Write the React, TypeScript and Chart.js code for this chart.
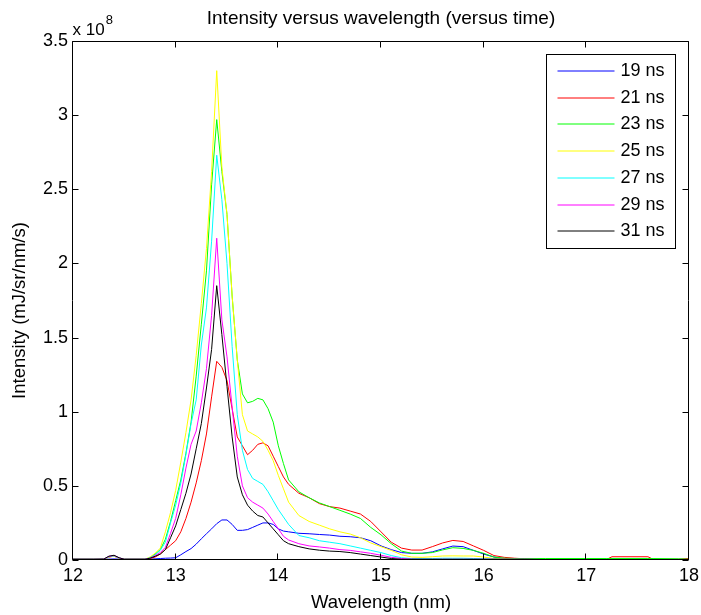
import React, { useEffect, useRef } from "react";
import { Chart, registerables } from "chart.js";

Chart.register(...registerables);

const FONT = "'Liberation Sans', Arial, Helvetica, sans-serif";

// Wavelength grid (nm)
const wavelength = [
  12.0, 12.2, 12.3, 12.35, 12.4, 12.45, 12.5, 12.7,
  12.75, 12.8, 12.85, 12.9, 12.95, 13.0, 13.05, 13.1, 13.15, 13.2, 13.25, 13.3, 13.35, 13.4,
  13.45, 13.5, 13.55, 13.6, 13.65, 13.7, 13.75, 13.8, 13.85, 13.9, 13.95, 14.0, 14.05, 14.1,
  14.2, 14.3, 14.4, 14.5, 14.6, 14.7, 14.8, 14.9, 15.0, 15.1, 15.2, 15.3,
  15.4, 15.5, 15.6, 15.7, 15.8, 15.9, 16.0, 16.1, 16.2, 16.3, 16.4,
  16.6, 17.0, 17.2, 17.25, 17.6, 17.65, 17.9, 18.0,
];

// Intensity in units of 1e8 mJ/sr/nm/s
const ns19 = [
  0.005, 0.005, 0.005, 0.006, 0.007, 0.006, 0.005, 0.005,
  0.006, 0.008, 0.01, 0.012, 0.013, 0.015, 0.035, 0.057, 0.077, 0.107, 0.143, 0.177, 0.21, 0.245,
  0.27, 0.27, 0.24, 0.2, 0.2, 0.205, 0.22, 0.235, 0.25, 0.25, 0.24, 0.21, 0.195, 0.19,
  0.18, 0.177, 0.172, 0.168, 0.16, 0.157, 0.15, 0.13, 0.095, 0.07, 0.05, 0.045,
  0.045, 0.055, 0.075, 0.094, 0.09, 0.065, 0.04, 0.02, 0.01, 0.007, 0.005,
  0.004, 0.004, 0.004, 0.004, 0.004, 0.004, 0.004, 0.004,
];
const ns21 = [
  0.005, 0.005, 0.006, 0.02, 0.026, 0.012, 0.005, 0.005,
  0.01, 0.02, 0.04, 0.07, 0.1, 0.13, 0.19, 0.28, 0.39, 0.52, 0.67, 0.85, 1.1, 1.34,
  1.3, 1.21, 1.02, 0.83, 0.77, 0.71, 0.74, 0.78, 0.79, 0.77, 0.7, 0.63, 0.56, 0.51,
  0.45, 0.42, 0.38, 0.36, 0.35, 0.33, 0.31, 0.26, 0.19, 0.12, 0.08, 0.067,
  0.067, 0.09, 0.115, 0.132, 0.125, 0.095, 0.065, 0.03, 0.018, 0.012, 0.008,
  0.005, 0.005, 0.005, 0.022, 0.022, 0.005, 0.005, 0.01,
];
const ns23 = [
  0.005, 0.005, 0.006, 0.022, 0.028, 0.013, 0.005, 0.005,
  0.015, 0.04, 0.07, 0.14, 0.26, 0.4, 0.54, 0.72, 0.93, 1.24, 1.59, 1.95, 2.53, 2.97,
  2.62, 2.33, 1.78, 1.35, 1.12, 1.06, 1.07, 1.09, 1.08, 1.02, 0.93, 0.77, 0.65, 0.54,
  0.46, 0.42, 0.385, 0.36, 0.335, 0.31, 0.28, 0.22, 0.17, 0.11, 0.06, 0.045,
  0.045, 0.05, 0.068, 0.083, 0.078, 0.065, 0.045, 0.02, 0.012, 0.01, 0.01,
  0.01, 0.01, 0.01, 0.01, 0.01, 0.01, 0.008, 0.005,
];
const ns25 = [
  0.005, 0.005, 0.006, 0.02, 0.025, 0.012, 0.005, 0.005,
  0.02, 0.045, 0.08, 0.19, 0.32, 0.47, 0.66, 0.86, 1.08, 1.38, 1.73, 2.1, 2.62, 3.3,
  2.65, 2.33, 1.78, 1.35, 0.98, 0.87, 0.85, 0.83, 0.8, 0.74, 0.67, 0.57, 0.48, 0.39,
  0.3, 0.26, 0.235, 0.21, 0.19, 0.175, 0.15, 0.115, 0.09, 0.065, 0.035, 0.02,
  0.018, 0.022, 0.027, 0.028, 0.027, 0.027, 0.02, 0.01, 0.008, 0.006, 0.005,
  0.003, 0.003, 0.003, 0.003, 0.003, 0.003, 0.003, 0.003,
];
const ns27 = [
  0.005, 0.005, 0.006, 0.022, 0.028, 0.013, 0.005, 0.005,
  0.015, 0.035, 0.065, 0.12, 0.25, 0.37, 0.52, 0.71, 0.92, 1.08, 1.45, 1.7, 2.15, 2.73,
  2.43, 2.0, 1.44, 0.98, 0.74, 0.61, 0.55, 0.53, 0.51, 0.46, 0.4, 0.34, 0.29, 0.24,
  0.165, 0.15, 0.13, 0.12, 0.11, 0.095, 0.08, 0.065, 0.05, 0.03, 0.015, 0.01,
  0.01, 0.01, 0.012, 0.012, 0.012, 0.01, 0.008, 0.006, 0.005, 0.005, 0.005,
  0.003, 0.003, 0.003, 0.003, 0.003, 0.003, 0.003, 0.003,
];
const ns29 = [
  0.005, 0.005, 0.006, 0.024, 0.03, 0.014, 0.005, 0.005,
  0.012, 0.03, 0.05, 0.085, 0.18, 0.28, 0.44, 0.62, 0.78, 0.87, 1.06, 1.29, 1.65, 2.17,
  1.62, 1.37, 1.03, 0.7, 0.5, 0.42, 0.39, 0.37, 0.35, 0.31, 0.26, 0.21, 0.16, 0.135,
  0.11, 0.095, 0.088, 0.08, 0.07, 0.065, 0.055, 0.045, 0.032, 0.018, 0.01, 0.006,
  0.005, 0.005, 0.005, 0.005, 0.005, 0.005, 0.005, 0.005, 0.005, 0.005, 0.005,
  0.003, 0.003, 0.003, 0.003, 0.003, 0.003, 0.003, 0.003,
];
const ns31 = [
  0.005, 0.005, 0.006, 0.026, 0.032, 0.015, 0.005, 0.005,
  0.012, 0.025, 0.04, 0.07, 0.15, 0.23, 0.34, 0.45, 0.58, 0.75, 0.92, 1.16, 1.42, 1.85,
  1.52, 1.17, 0.83, 0.56, 0.44, 0.37, 0.33, 0.3, 0.29, 0.25, 0.21, 0.17, 0.13, 0.11,
  0.09, 0.075, 0.066, 0.06, 0.057, 0.05, 0.04, 0.03, 0.02, 0.01, 0.005, 0.005,
  0.005, 0.005, 0.005, 0.005, 0.005, 0.005, 0.005, 0.005, 0.005, 0.005, 0.005,
  0.003, 0.003, 0.003, 0.003, 0.003, 0.003, 0.003, 0.003,
];

const seriesValues = [ns19, ns21, ns23, ns25, ns27, ns29, ns31];
const seriesLabels = ["19 ns", "21 ns", "23 ns", "25 ns", "27 ns", "29 ns", "31 ns"];
const seriesColors = ["#0000ff", "#ff0000", "#00ff00", "#ffff00", "#00ffff", "#ff00ff", "#000000"];

const xTickValues = [12, 13, 14, 15, 16, 17, 18];
const yTickValues = [0, 0.5, 1, 1.5, 2, 2.5, 3, 3.5];
const yExponent = "8";

const chartTitle = "Intensity versus wavelength (versus time)";
const xTitle = "Wavelength (nm)";
const yTitle = "Intensity (mJ/sr/nm/s)";

const framePlugin = {
  id: "matlabFrame",
  afterDraw(chart: any) {
    const { ctx, chartArea: a, scales } = chart;
    const L = Math.round(a.left) - 0.5;
    const R = Math.round(a.right) - 0.5;
    const T = Math.round(a.top) + 0.5;
    const B = Math.round(a.bottom) - 0.5;
    const tick = 6;
    ctx.save();
    ctx.strokeStyle = "#000";
    ctx.lineWidth = 1;
    ctx.beginPath();
    ctx.rect(L, T, R - L, B - T);
    for (const v of xTickValues) {
      const px = Math.round(scales.x.getPixelForValue(v)) - 0.5;
      ctx.moveTo(px, B);
      ctx.lineTo(px, B - tick);
      ctx.moveTo(px, T);
      ctx.lineTo(px, T + tick);
    }
    for (const v of yTickValues) {
      const py = Math.round(scales.y.getPixelForValue(v)) + 0.5;
      ctx.moveTo(L, py);
      ctx.lineTo(L + tick, py);
      ctx.moveTo(R, py);
      ctx.lineTo(R - tick, py);
    }
    ctx.stroke();

    // y axis title (rotated)
    ctx.fillStyle = "#000";
    ctx.save();
    ctx.translate(20, (a.top + a.bottom) / 2 + 10);
    ctx.rotate(-Math.PI / 2);
    ctx.textAlign = "center";
    ctx.textBaseline = "middle";
    ctx.font = `18.5px ${FONT}`;
    ctx.fillText(yTitle, 0, 0);
    ctx.restore();

    // exponent label
    ctx.textAlign = "left";
    ctx.textBaseline = "alphabetic";
    ctx.font = `17px ${FONT}`;
    const base = "x 10";
    ctx.fillText(base, L, T - 7);
    const w = ctx.measureText(base).width;
    ctx.font = `13px ${FONT}`;
    ctx.fillText(yExponent, L + w + 1, T - 18);

    // legend
    const boxR = R - 14;
    const boxT = T + 12;
    const boxW = 129;
    const rowH = 26.7;
    const boxH = 194;
    const boxL = boxR - boxW;
    ctx.fillStyle = "#fff";
    ctx.fillRect(boxL, boxT, boxW, boxH);
    ctx.strokeStyle = "#000";
    ctx.strokeRect(Math.round(boxL) + 0.5, Math.round(boxT) + 0.5, boxW, boxH);
    ctx.font = `18px ${FONT}`;
    ctx.textBaseline = "middle";
    chart.data.datasets.forEach((ds: any, i: number) => {
      const y = Math.round(boxT + 17.5 + i * rowH);
      ctx.strokeStyle = seriesColors[i];
      ctx.lineWidth = 1;
      ctx.beginPath();
      ctx.moveTo(boxL + 12, y);
      ctx.lineTo(boxL + 69, y);
      ctx.stroke();
      ctx.fillStyle = "#000";
      ctx.fillText(ds.label, boxL + 75, y);
    });
    ctx.restore();
  },
};

export default function App() {
  const canvasRef = useRef<HTMLCanvasElement | null>(null);

  useEffect(() => {
    const canvas = canvasRef.current;
    if (!canvas) return;
    Chart.defaults.color = "#000";
    const datasets = seriesValues.map((vals, i) => ({
      label: seriesLabels[i],
      data: wavelength.map((x, j) => ({ x, y: vals[j] })),
      borderColor: seriesColors[i],
      backgroundColor: seriesColors[i],
      borderWidth: 1,
      pointRadius: 0,
      tension: 0,
      fill: false,
      order: seriesValues.length - 1 - i,
    }));
    const chart = new Chart(canvas, {
      type: "line",
      data: { datasets },
      plugins: [framePlugin],
      options: {
        responsive: false,
        animation: false,
        events: [],
        layout: { autoPadding: false, padding: { left: 0, right: 12, top: 0, bottom: 0 } },
        plugins: {
          legend: { display: false },
          tooltip: { enabled: false },
          title: {
            display: true,
            text: chartTitle,
            fullSize: false,
            color: "#000",
            font: { family: FONT, size: 19, weight: "normal" },
            padding: { top: 7, bottom: 11.2 },
          },
        },
        scales: {
          x: {
            type: "linear",
            min: 12,
            max: 18,
            offset: false,
            afterFit: (s: any) => {
              s.height = 55;
              s.paddingLeft = 0;
              s.paddingRight = 0;
            },
            afterBuildTicks: (s: any) => {
              s.ticks = xTickValues.map((v) => ({ value: v }));
            },
            ticks: {
              color: "#000",
              font: { family: FONT, size: 18 },
              padding: 5,
              maxRotation: 0,
              autoSkip: false,
              callback: (v: any) => `${v}`,
            },
            grid: { display: false, drawTicks: false },
            border: { display: false },
            title: {
              display: true,
              text: xTitle,
              color: "#000",
              font: { family: FONT, size: 18.5 },
              padding: { top: 0, bottom: 1 },
            },
          },
          y: {
            type: "linear",
            min: 0,
            max: 3.5,
            afterFit: (s: any) => {
              s.width = 73;
              s.paddingTop = 0;
              s.paddingBottom = 0;
            },
            afterBuildTicks: (s: any) => {
              s.ticks = yTickValues.map((v) => ({ value: v }));
            },
            ticks: {
              color: "#000",
              font: { family: FONT, size: 18 },
              padding: 5,
              autoSkip: false,
              callback: (v: any) => `${v}`,
            },
            grid: { display: false, drawTicks: false },
            border: { display: false },
            title: { display: false },
          },
        },
      },
    } as any);
    return () => chart.destroy();
  }, []);

  return (
    <div style={{ position: "fixed", left: 0, top: 0, width: 701, height: 615, background: "#fff" }}>
      <canvas ref={canvasRef} width={701} height={615} />
    </div>
  );
}
